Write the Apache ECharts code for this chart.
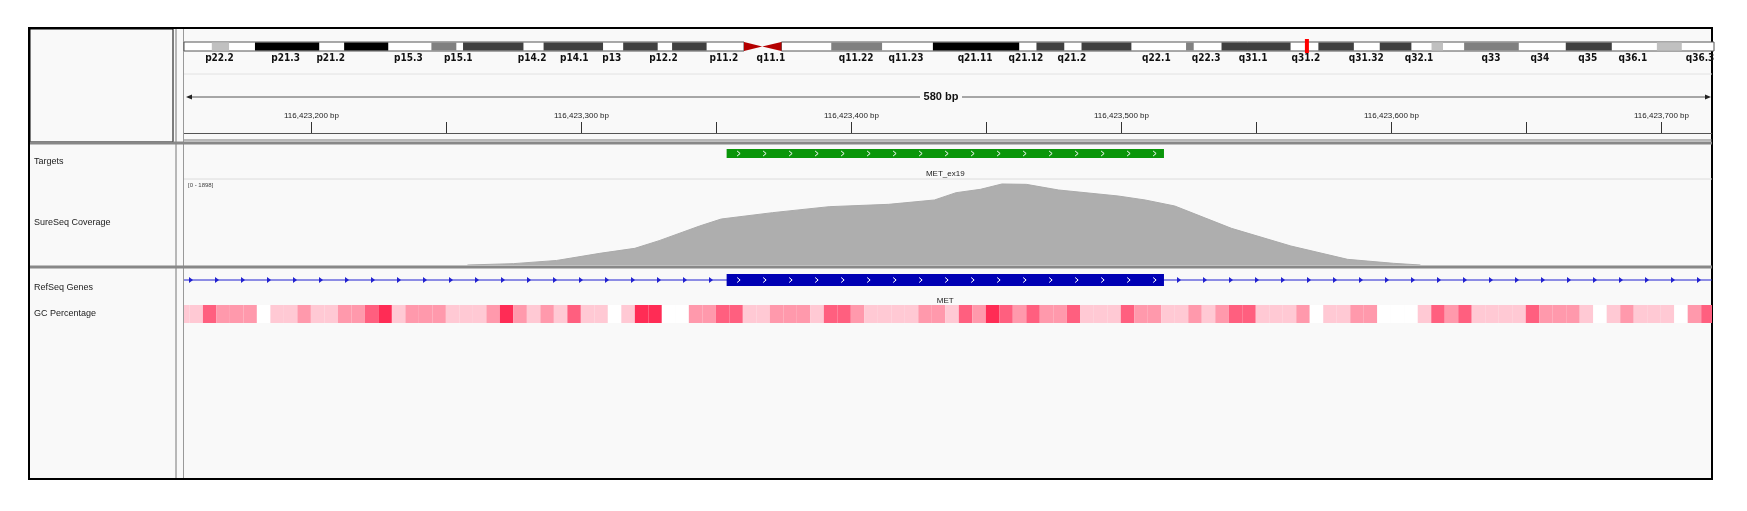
<!DOCTYPE html>
<html>
<head>
<meta charset="utf-8">
<script src="https://cdn.jsdelivr.net/npm/echarts@6/dist/echarts.min.js"></script>
<style>
html,body{margin:0;padding:0;background:#fff;}
#main{width:1747px;height:511px;}
</style>
</head>
<body>
<div id="main"></div>
<script>
// chr7 ideogram bands, Mb
var bandStart = [2.9, 7.4, 16.7, 25.8, 29.1, 37.5, 45.8, 50.9, 67.5, 78.1, 88.9, 93.6, 104.5, 108.2, 118.3, 124.7, 130.1, 133.5, 144.1, 153.6];
var bandEnd   = [4.7, 14.1, 21.3, 28.4, 35.4, 43.7, 49.4, 54.5, 72.8, 87.1, 91.8, 98.8, 105.3, 115.4, 122.0, 128.0, 131.3, 139.2, 148.9, 156.2];
var bandStain = ['gpos25','gpos100','gpos100','gpos50','gpos75','gpos75','gpos75','gpos75','gpos50','gpos100','gpos75','gpos75','gpos50','gpos75','gpos75','gpos75','gpos25','gpos50','gpos75','gpos25'];
var centromere = [58.4, 60.3, 62.3];
var chromEnd = 159.35;
var currentPos = [117.0, 117.4];
var bandNames = ['p22.2','p21.3','p21.2','p15.3','p15.1','p14.2','p14.1','p13','p12.2','p11.2','q11.1','q11.22','q11.23','q21.11','q21.12','q21.2','q22.1','q22.3','q31.1','q31.2','q31.32','q32.1','q33','q34','q35','q36.1','q36.3'];
var bandNamePos = [3.7,10.6,15.3,23.4,28.6,36.3,40.7,44.6,50.0,56.3,61.2,70.1,75.3,82.5,87.8,92.6,101.4,106.6,111.5,117.0,123.3,128.8,136.3,141.4,146.4,151.1,158.1];

// view, bp
var viewStart = 116423153;
var viewEnd = 116423719;
var rulerTicks = [116423200,116423250,116423300,116423350,116423400,116423450,116423500,116423550,116423600,116423650,116423700];
var rulerLabels = [116423200,116423300,116423400,116423500,116423600,116423700];

// Targets / genes
var targetStart = 116423354, targetEnd = 116423516, targetName = 'MET_ex19';
var exonStart = 116423354, exonEnd = 116423516, geneName = 'MET';

// coverage, offset from 116423000 and depth
var covPos = [258,275,291,307,320,329,344,352,371,392,414,431,439,448,456,465,477,499,509,520,541,563,584,601,611];
var covVal = [0,30,100,257,368,537,861,1015,1155,1287,1339,1435,1596,1670,1788,1780,1655,1523,1435,1302,809,419,125,37,0];
var covMax = 1898;

// GC level per 5bp window from 116423150 (0 white .. 4 darkest)
var gcLevel = [1,1,3,2,2,2,0,1,1,2,1,1,2,2,3,4,1,2,2,2,1,1,1,2,4,2,1,2,1,3,1,1,0,1,4,4,0,0,2,
  2,3,3,1,1,2,2,2,1,3,3,2,1,1,1,1,2,2,1,3,2,4,3,2,3,2,2,3,1,1,1,3,2,2,1,1,2,1,
  2,3,3,1,1,1,2,0,1,1,2,2,0,0,0,1,3,2,3,1,1,1,1,3,2,2,2,1,0,1,2,1,1,1,0,2,3,4];
var gcColors = ['#ffffff','#ffc9d4','#ff99ac','#ff5f7f','#ff2c55'];
var stainColor = {gpos25:'#c0c0c0', gpos50:'#808080', gpos75:'#404040', gpos100:'#000000'};

var L = 184, W = 1528;
var chart = echarts.init(document.getElementById('main'));

function bp(o) { return 116423000 + o; }
var bands = bandStart.map(function (s, i) { return [s, bandEnd[i], bandStain[i]]; });
var gcData = gcLevel.map(function (v, i) { return [116423150 + i * 5, 116423155 + i * 5, v]; });
var covData = covPos.map(function (p, i) { return [bp(p), covVal[i]]; });

function rectItem(api, y0, h, color) {
  var a = api.coord([api.value(0), 0])[0], b = api.coord([api.value(1), 0])[0];
  a = Math.max(a, L); b = Math.min(b, L + W);
  return {type: 'rect', shape: {x: a, y: y0, width: Math.max(b - a, 0), height: h}, style: {fill: color}};
}

function chevrons(x0, x1, y, step, color) {
  var out = [];
  for (var x = x0 + 12; x < x1 - 6; x += step) {
    out.push({type: 'polyline', shape: {points: [[x - 1.5, y - 2.5], [x + 1.5, y], [x - 1.5, y + 2.5]]}, style: {stroke: color, fill: null, lineWidth: 1}});
  }
  return out;
}

var grids = [
  {left: L, width: W, top: 42, height: 9},      // ideogram
  {left: L, width: W, top: 100, height: 34},    // ruler
  {left: L, width: W, top: 149, height: 9},     // targets
  {left: L, width: W, top: 179, height: 86},    // coverage
  {left: L, width: W, top: 274, height: 12},    // genes
  {left: L, width: W, top: 305, height: 18}     // GC
];
var xAxes = grids.map(function (g, i) {
  return {gridIndex: i, type: 'value', min: i === 0 ? 0 : viewStart, max: i === 0 ? chromEnd : viewEnd, show: false};
});
var yAxes = grids.map(function (g, i) {
  return {gridIndex: i, type: 'value', min: 0, max: i === 3 ? covMax : 1, show: false};
});

var font = 'Arial, "Liberation Sans", sans-serif';

option = {
  animation: false,
  backgroundColor: '#ffffff',
  grid: grids,
  xAxis: xAxes,
  yAxis: yAxes,
  graphic: [
    {type: 'rect', shape: {x: 29, y: 28, width: 1683, height: 451}, style: {fill: '#f9f9f9', stroke: '#000', lineWidth: 2}, z: -10},
    {type: 'rect', shape: {x: 30, y: 29, width: 143, height: 113}, style: {fill: '#f9f9f9', stroke: '#000', lineWidth: 1}, z: -9},
    {type: 'line', shape: {x1: 176, y1: 29, x2: 176, y2: 478}, style: {stroke: '#777', lineWidth: 1}},
    {type: 'line', shape: {x1: 183.5, y1: 29, x2: 183.5, y2: 478}, style: {stroke: '#999', lineWidth: 1}},
    {type: 'line', shape: {x1: 184, y1: 74, x2: 1712, y2: 74}, style: {stroke: '#e2e2e2', lineWidth: 1}},
    {type: 'line', shape: {x1: 30, y1: 143, x2: 1712, y2: 143}, style: {stroke: '#888', lineWidth: 3}},
    {type: 'line', shape: {x1: 30, y1: 267, x2: 1712, y2: 267}, style: {stroke: '#888', lineWidth: 3}},
    {type: 'line', shape: {x1: 184, y1: 179, x2: 1712, y2: 179}, style: {stroke: '#dcdcdc', lineWidth: 1}},
    {type: 'line', shape: {x1: 184, y1: 133.5, x2: 1712, y2: 133.5}, style: {stroke: '#555', lineWidth: 1}},
    {type: 'line', shape: {x1: 184, y1: 140, x2: 1712, y2: 140}, style: {stroke: '#777', lineWidth: 1}},
    {type: 'line', shape: {x1: 190, y1: 97, x2: 920, y2: 97}, style: {stroke: '#555', lineWidth: 1}},
    {type: 'line', shape: {x1: 962, y1: 97, x2: 1706, y2: 97}, style: {stroke: '#555', lineWidth: 1}},
    {type: 'polygon', shape: {points: [[186, 97], [192, 94.5], [192, 99.5]]}, style: {fill: '#222'}},
    {type: 'polygon', shape: {points: [[1711, 97], [1705, 94.5], [1705, 99.5]]}, style: {fill: '#222'}},
    {type: 'text', x: 941, y: 97, style: {text: '580 bp', font: 'bold 11px ' + font, fill: '#111', align: 'center', verticalAlign: 'middle'}},
    {type: 'text', x: 34, y: 162, style: {text: 'Targets', font: '9px ' + font, fill: '#222', verticalAlign: 'middle'}},
    {type: 'text', x: 34, y: 223, style: {text: 'SureSeq Coverage', font: '9px ' + font, fill: '#222', verticalAlign: 'middle'}},
    {type: 'text', x: 34, y: 288, style: {text: 'RefSeq Genes', font: '9px ' + font, fill: '#222', verticalAlign: 'middle'}},
    {type: 'text', x: 34, y: 314, style: {text: 'GC Percentage', font: '9px ' + font, fill: '#222', verticalAlign: 'middle'}},
    {type: 'text', x: 188, y: 185, style: {text: '[0 - ' + covMax + ']', font: '6px ' + font, fill: '#444', verticalAlign: 'middle'}}
  ],
  series: [
    { // ideogram
      type: 'custom', xAxisIndex: 0, yAxisIndex: 0, data: [[0, chromEnd]],
      renderItem: function (params, api) {
        var c = function (v) { return api.coord([v, 0])[0]; };
        var y = 42, h = 9, kids = [];
        kids.push({type: 'rect', shape: {x: c(0), y: y, width: c(centromere[0]) - c(0), height: h}, style: {fill: '#fff', stroke: '#555', lineWidth: 1}});
        kids.push({type: 'rect', shape: {x: c(centromere[2]), y: y, width: c(chromEnd) - c(centromere[2]) + 2, height: h}, style: {fill: '#fff', stroke: '#555', lineWidth: 1}});
        bands.forEach(function (b) {
          kids.push({type: 'rect', shape: {x: c(b[0]), y: y + 0.5, width: c(b[1]) - c(b[0]), height: h - 1}, style: {fill: stainColor[b[2]]}});
        });
        kids.push({type: 'polygon', shape: {points: [[c(centromere[0]), y], [c(centromere[1]), y + h / 2], [c(centromere[0]), y + h]]}, style: {fill: '#b40000'}});
        kids.push({type: 'polygon', shape: {points: [[c(centromere[2]), y], [c(centromere[1]), y + h / 2], [c(centromere[2]), y + h]]}, style: {fill: '#b40000'}});
        kids.push({type: 'rect', shape: {x: c(currentPos[0]) - 1, y: y - 3, width: 4, height: h + 5}, style: {fill: '#ff0000'}});
        bandNames.forEach(function (n, i) {
          kids.push({type: 'text', x: c(bandNamePos[i]), y: 58, style: {text: n, font: 'bold 10px "Liberation Sans Narrow", "DejaVu Sans Condensed", sans-serif', fill: '#111', align: 'center', verticalAlign: 'middle'}});
        });
        return {type: 'group', children: kids};
      }
    },
    { // ruler ticks
      type: 'custom', xAxisIndex: 1, yAxisIndex: 1, data: rulerTicks.map(function (t) { return [t]; }),
      renderItem: function (params, api) {
        var v = api.value(0), x = Math.round(api.coord([v, 0])[0]) + 0.5, kids = [];
        kids.push({type: 'line', shape: {x1: x, y1: 122, x2: x, y2: 133}, style: {stroke: '#333', lineWidth: 1}});
        if (rulerLabels.indexOf(v) >= 0) {
          kids.push({type: 'text', x: x, y: 116, style: {text: v.toLocaleString('en-US') + ' bp', font: '8px ' + font, fill: '#222', align: 'center', verticalAlign: 'middle'}});
        }
        return {type: 'group', children: kids};
      }
    },
    { // targets
      type: 'custom', xAxisIndex: 2, yAxisIndex: 2, data: [[targetStart, targetEnd]],
      renderItem: function (params, api) {
        var r = rectItem(api, 149, 9, '#0a960a');
        var kids = [r].concat(chevrons(r.shape.x, r.shape.x + r.shape.width, 153.5, 26, '#ffffff'));
        kids.push({type: 'text', x: r.shape.x + r.shape.width / 2, y: 174, style: {text: targetName, font: '8px ' + font, fill: '#222', align: 'center', verticalAlign: 'middle'}});
        return {type: 'group', children: kids};
      }
    },
    { // coverage
      type: 'line', xAxisIndex: 3, yAxisIndex: 3, data: covData, symbol: 'none',
      lineStyle: {color: '#aaaaaa', width: 1}, areaStyle: {color: '#aeaeae', opacity: 1}
    },
    { // genes
      type: 'custom', xAxisIndex: 4, yAxisIndex: 4, data: [[exonStart, exonEnd]],
      renderItem: function (params, api) {
        var r = rectItem(api, 274, 12, '#0000b4');
        var kids = [{type: 'line', shape: {x1: L, y1: 280, x2: L + W, y2: 280}, style: {stroke: '#2020d0', lineWidth: 1}}];
        for (var x = L + 7; x < L + W; x += 26) {
          if (x > r.shape.x - 4 && x < r.shape.x + r.shape.width + 4) continue;
          kids.push({type: 'polygon', shape: {points: [[x - 2, 277], [x + 2, 280], [x - 2, 283]]}, style: {fill: '#2020d0'}});
        }
        kids.push(r);
        kids = kids.concat(chevrons(r.shape.x, r.shape.x + r.shape.width, 280, 26, '#ffffff'));
        kids.push({type: 'text', x: r.shape.x + r.shape.width / 2, y: 301, style: {text: geneName, font: '8px ' + font, fill: '#222', align: 'center', verticalAlign: 'middle'}});
        return {type: 'group', children: kids};
      }
    },
    { // GC percentage
      type: 'custom', xAxisIndex: 5, yAxisIndex: 5, data: gcData,
      renderItem: function (params, api) {
        return rectItem(api, 305, 18, gcColors[api.value(2)]);
      }
    }
  ]
};
chart.setOption(option);
</script>
</body>
</html>
